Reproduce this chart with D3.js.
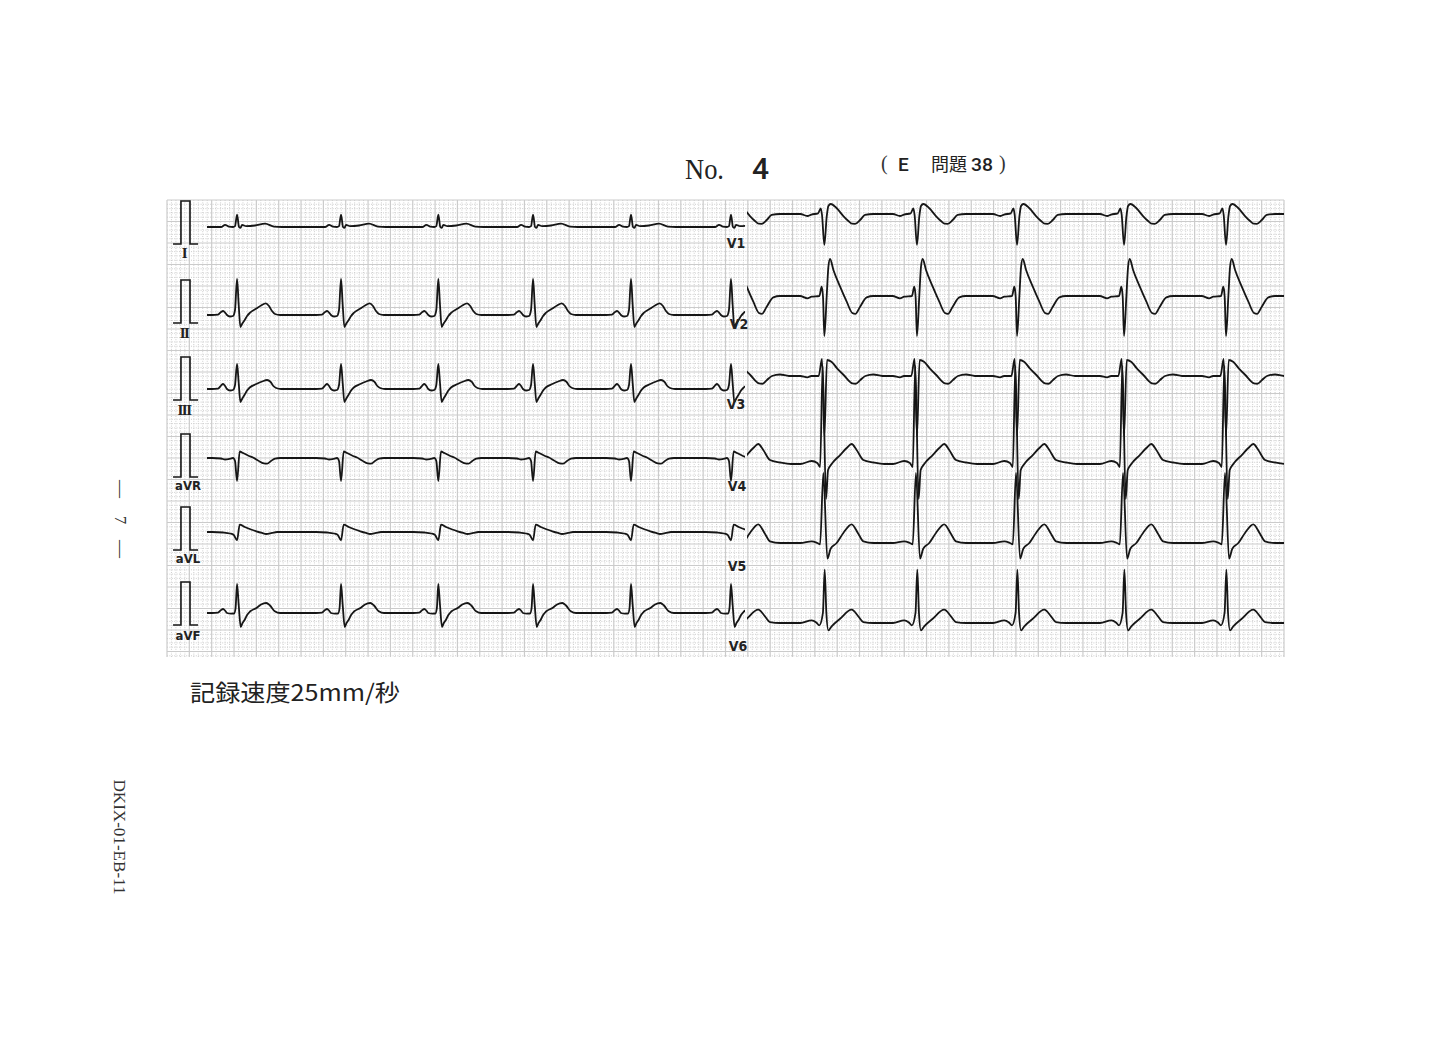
<!DOCTYPE html>
<html>
<head>
<meta charset="utf-8">
<script src="https://cdn.jsdelivr.net/npm/d3@7/dist/d3.min.js"></script>
<style>
  html, body { margin: 0; padding: 0; background: #fff; }
  svg { display: block; }
</style>
</head>
<body>
<svg id="chart" width="1452" height="1039"></svg>
<script>
// ---------------- DATA ----------------
// Beat (QRS) times in seconds along the 10 s strip (25 mm/s)
const beatTimes = [0.627, 1.558, 2.429, 3.277, 4.154, 5.049, 5.885, 6.714, 7.610, 8.568, 9.481];

const limbLeads  = ["I", "II", "III", "aVR", "aVL", "aVF"];
const chestLeads = ["V1", "V2", "V3", "V4", "V5", "V6"];

// Beat shapes: [ms relative to QRS, mV]
const beatI   = [[-224,0],[-143,0],[-107,0.05],[-72,0.01],[-36,0],[-18,0.02],[0,0.29],[18,0],[31,-0.02],[45,0.05],[81,0.02],[161,0.035],[251,0.08],[331,0.01],[403,0]];
const beatII  = [[-224,0],[-170,0.01],[-143,0.07],[-125,0.093],[-107,0.058],[-90,0],[-63,-0.035],[-36,-0.023],[-18,0.116],[0,0.837],[15,0.233],[30,-0.279],[45,-0.209],[69,-0.116],[90,-0.023],[114,0.047],[173,0.151],[215,0.221],[257,0.272],[286,0.209],[313,0.093],[340,0.023],[385,0]];
const beatIII = [[-224,0],[-170,0.01],[-143,0.08],[-125,0.116],[-107,0.07],[-90,0],[-63,-0.035],[-36,-0.023],[-18,0.093],[0,0.581],[15,0.14],[30,-0.302],[45,-0.233],[69,-0.128],[90,-0.035],[114,0.035],[173,0.116],[225,0.174],[269,0.209],[300,0.163],[325,0.07],[350,0.023],[395,0]];
const beatAVR = [[-224,0],[-143,-0.012],[-107,-0.035],[-72,-0.023],[-36,0],[-18,-0.07],[0,-0.535],[24,0.151],[54,0.116],[107,0.047],[143,0.012],[188,-0.058],[240,-0.125],[270,-0.13],[304,-0.07],[340,-0.012],[385,0]];
const beatAVL = [[-224,0],[-125,-0.012],[-63,-0.035],[-31,-0.063],[0,-0.193],[24,0.17],[69,0.116],[125,0.058],[173,0.016],[224,-0.023],[260,-0.047],[313,-0.023],[358,0]];
const beatAVF = [[-224,0],[-170,0.01],[-143,0.07],[-125,0.093],[-107,0.058],[-90,0],[-54,-0.016],[-27,-0.012],[-13,0.116],[0,0.674],[15,0.186],[33,-0.326],[49,-0.233],[69,-0.156],[90,-0.047],[116,0.035],[173,0.116],[215,0.198],[262,0.233],[295,0.174],[338,0.04],[385,0]];
const beatV1  = [[-215,0],[-152,-0.047],[-116,-0.012],[-56,0.016],[-32,0.133],[-21,-0.023],[0,-0.72],[21,-0.063],[36,0.186],[57,0.233],[111,0.133],[170,-0.047],[215,-0.163],[248,-0.225],[275,-0.228],[320,-0.14],[364,-0.023],[439,0]];
const beatV2  = [[-218,0],[-152,-0.053],[-114,-0.016],[-45,0],[-24,0.216],[-12,-0.023],[0,-0.93],[21,0],[36,0.674],[51,0.86],[81,0.605],[141,0.216],[200,-0.133],[250,-0.395],[278,-0.415],[320,-0.249],[379,-0.03],[439,0]];
const beatV3  = [[-215,0],[-152,-0.03],[-116,0],[-51,0],[-21,0.395],[0,-1.395],[24,0.372],[63,0.333],[114,0.179],[173,0.023],[250,-0.17],[280,-0.18],[322,-0.093],[367,0],[439,0.035],[519,0]];
const beatV4  = [[-215,0],[-114,0.07],[-63,0.023],[-38,-0.07],[-15,2.28],[15,-0.814],[33,-0.14],[65,0],[141,0.209],[200,0.372],[244,0.465],[289,0.326],[349,0.093],[439,0.035],[537,0]];
const beatV5  = [[-215,0],[-114,0.04],[-63,0],[-38,-0.03],[-9,1.628],[27,-0.365],[56,-0.133],[110,0],[170,0.233],[244,0.435],[304,0.216],[349,0.04],[439,0]];
const beatV6  = [[-215,0],[-114,0.063],[-72,0.012],[-45,-0.053],[-13,0.233],[3,1.24],[18,0.233],[36,-0.17],[65,-0.077],[141,0.1],[244,0.309],[304,0.156],[349,0.023],[439,0]];

// calibration pulse (1 mV) [s, mV]
const calPulse = [[0.054,0],[0.125,0],[0.125,1],[0.206,1],[0.206,0],[0.278,0]];

// ---------------- LAYOUT ----------------
const G = { left: 167, right: 1284, top: 200, bottom: 657 };
const pxPerMV = 43;
const limbBase  = [227, 315, 389, 458, 532, 613];
const chestBase = [214, 296, 376, 464, 543, 623];
const calBase   = [244, 323, 400, 477, 550, 625];
const limbWin  = [0.358, 5.175];
const chestWin = [5.193, 10.0];

const shapes = { I: beatI, II: beatII, III: beatIII, aVR: beatAVR, aVL: beatAVL, aVF: beatAVF,
                 V1: beatV1, V2: beatV2, V3: beatV3, V4: beatV4, V5: beatV5, V6: beatV6 };

const svg = d3.select("#chart");
const x = d3.scaleLinear().domain([0, 10]).range([G.left, G.right]);
const gridY = d3.scaleLinear().domain([0, (G.bottom - G.top) / pxPerMV]).range([G.top, G.bottom]);

// ---------------- GRID ----------------
const grid = svg.append("g");
const nMinorX = Math.floor(10 / 0.04 + 1e-6);
const minorXs = d3.range(0, nMinorX + 1).map(i => i * 0.04);
const maxMV = (G.bottom - G.top) / pxPerMV;
const minorYs = d3.range(0, Math.floor(maxMV / 0.1 + 1e-6) + 1).map(i => i * 0.1);

grid.selectAll("line.mx").data(minorXs.filter((d, i) => i % 5 !== 0)).join("line")
  .attr("x1", d => x(d)).attr("x2", d => x(d)).attr("y1", G.top).attr("y2", G.bottom)
  .attr("stroke", "#c8c8c8").attr("stroke-width", 0.9).attr("stroke-dasharray", "1,1.4");
grid.selectAll("line.my").data(minorYs.filter((d, i) => i % 5 !== 0)).join("line")
  .attr("y1", d => gridY(d)).attr("y2", d => gridY(d)).attr("x1", G.left).attr("x2", G.right)
  .attr("stroke", "#c8c8c8").attr("stroke-width", 0.9).attr("stroke-dasharray", "1,1.4");
grid.selectAll("line.Mx").data(minorXs.filter((d, i) => i % 5 === 0)).join("line")
  .attr("x1", d => x(d)).attr("x2", d => x(d)).attr("y1", G.top).attr("y2", G.bottom)
  .attr("stroke", "#cbcbcb").attr("stroke-width", 1.2);
grid.selectAll("line.My").data(minorYs.filter((d, i) => i % 5 === 0)).join("line")
  .attr("y1", d => gridY(d)).attr("y2", d => gridY(d)).attr("x1", G.left).attr("x2", G.right)
  .attr("stroke", "#cbcbcb").attr("stroke-width", 1.2);

// ---------------- TRACES ----------------
const defs = svg.append("defs");
defs.append("clipPath").attr("id", "clipLimb").append("rect")
  .attr("x", x(limbWin[0])).attr("width", x(limbWin[1]) - x(limbWin[0]))
  .attr("y", 0).attr("height", 1039);
defs.append("clipPath").attr("id", "clipChest").append("rect")
  .attr("x", x(chestWin[0])).attr("width", x(chestWin[1]) - x(chestWin[0]))
  .attr("y", 0).attr("height", 1039);

function leadPoints(shape) {
  const pts = [[-1, 0]];
  beatTimes.forEach(bt => shape.forEach(([ms, mv]) => pts.push([bt + ms / 1000, mv])));
  pts.push([11, 0]);
  return pts;
}

const traceColor = "#161616";
function drawLead(name, base, clipId) {
  const y = d3.scaleLinear().domain([0, 1]).range([base, base - pxPerMV]);
  const line = d3.line().x(d => x(d[0])).y(d => y(d[1])).curve(d3.curveMonotoneX);
  svg.append("path").datum(leadPoints(shapes[name]))
    .attr("d", line).attr("fill", "none").attr("stroke", traceColor)
    .attr("stroke-width", 1.8).attr("stroke-linejoin", "round")
    .attr("clip-path", `url(#${clipId})`);
}
limbLeads.forEach((n, i) => drawLead(n, limbBase[i], "clipLimb"));
chestLeads.forEach((n, i) => drawLead(n, chestBase[i], "clipChest"));

// calibration pulses
calBase.forEach(b => {
  const y = d3.scaleLinear().domain([0, 1]).range([b, b - pxPerMV]);
  svg.append("path").datum(calPulse)
    .attr("d", d3.line().x(d => x(d[0])).y(d => y(d[1])))
    .attr("fill", "none").attr("stroke", traceColor).attr("stroke-width", 1.6);
});

// ---------------- LABELS ----------------
const roman = ["I", "II", "III"];
const romanY = [258, 338, 415];
roman.forEach((t, i) => {
  svg.append("text").attr("x", 184).attr("y", romanY[i]).attr("text-anchor", "middle")
    .attr("font-family", "Liberation Serif, serif").attr("font-weight", "bold")
    .attr("font-size", 15).attr("letter-spacing", -1.5).attr("fill", "#222").text(t);
});
const augY = [490, 563, 640];
["aVR", "aVL", "aVF"].forEach((t, i) => {
  svg.append("text").attr("x", 188).attr("y", augY[i]).attr("text-anchor", "middle")
    .attr("font-family", "Liberation Sans Narrow, DejaVu Sans Condensed, sans-serif")
    .attr("font-weight", "bold").attr("font-size", 13).attr("fill", "#222").text(t);
});
const vLabelX = [736, 739, 736, 737, 737, 738];
const vLabelY = [248, 329, 409, 491, 571, 651];
chestLeads.forEach((t, i) => {
  svg.append("text").attr("x", vLabelX[i]).attr("y", vLabelY[i]).attr("text-anchor", "middle")
    .attr("font-family", "Liberation Sans Narrow, DejaVu Sans Condensed, sans-serif")
    .attr("font-weight", "bold").attr("font-size", 14).attr("fill", "#222").text(t);
});

// ---------------- TITLE & NOTES ----------------
svg.append("text").attr("x", 685).attr("y", 179)
  .attr("font-family", "Liberation Serif, serif").attr("font-size", 30)
  .attr("textLength", 39).attr("lengthAdjust", "spacingAndGlyphs").attr("fill", "#222").text("No.");
svg.append("text").attr("x", 752).attr("y", 179)
  .attr("font-family", "Roboto, Liberation Sans, sans-serif").attr("font-weight", 500).attr("font-size", 30)
  .attr("fill", "#222").text("4");

svg.append("text").attr("x", 881).attr("y", 170)
  .attr("font-family", "Liberation Serif, serif").attr("font-size", 20).attr("fill", "#333").text("(");
svg.append("text").attr("x", 898).attr("y", 171)
  .attr("font-family", "Roboto, Liberation Sans, sans-serif").attr("font-weight", 500).attr("font-size", 19).attr("fill", "#222").text("E");
svg.append("text").attr("x", 931).attr("y", 171)
  .attr("font-family", "Noto Sans CJK JP, sans-serif").attr("font-size", 18).attr("fill", "#222").text("問題");
svg.append("text").attr("x", 971).attr("y", 171)
  .attr("font-family", "Roboto, Liberation Sans, sans-serif").attr("font-weight", 500)
  .attr("font-size", 19).attr("textLength", 22).attr("lengthAdjust", "spacingAndGlyphs")
  .attr("fill", "#222").text("38");
svg.append("text").attr("x", 999).attr("y", 170)
  .attr("font-family", "Liberation Serif, serif").attr("font-size", 20).attr("fill", "#333").text(")");

svg.append("text").attr("x", 190).attr("y", 701)
  .attr("font-family", "Noto Sans CJK JP, sans-serif").attr("font-size", 23)
  .attr("textLength", 210).attr("lengthAdjust", "spacingAndGlyphs").attr("fill", "#222")
  .text("記録速度25mm/秒");

// rotated page marks
function rotText(cx, cy, txt, size, len) {
  const t = svg.append("text").attr("transform", `translate(${cx},${cy}) rotate(90)`)
    .attr("text-anchor", "middle").attr("dominant-baseline", "central")
    .attr("font-family", "Liberation Serif, serif").attr("font-size", size).attr("fill", "#333").text(txt);
  if (len) t.attr("textLength", len).attr("lengthAdjust", "spacingAndGlyphs");
}
rotText(121, 489, "—", 18);
rotText(120, 520, "7", 17);
rotText(121, 549, "—", 18);
rotText(119, 837, "DKIX-01-EB-11", 17, 115);
</script>
</body>
</html>
